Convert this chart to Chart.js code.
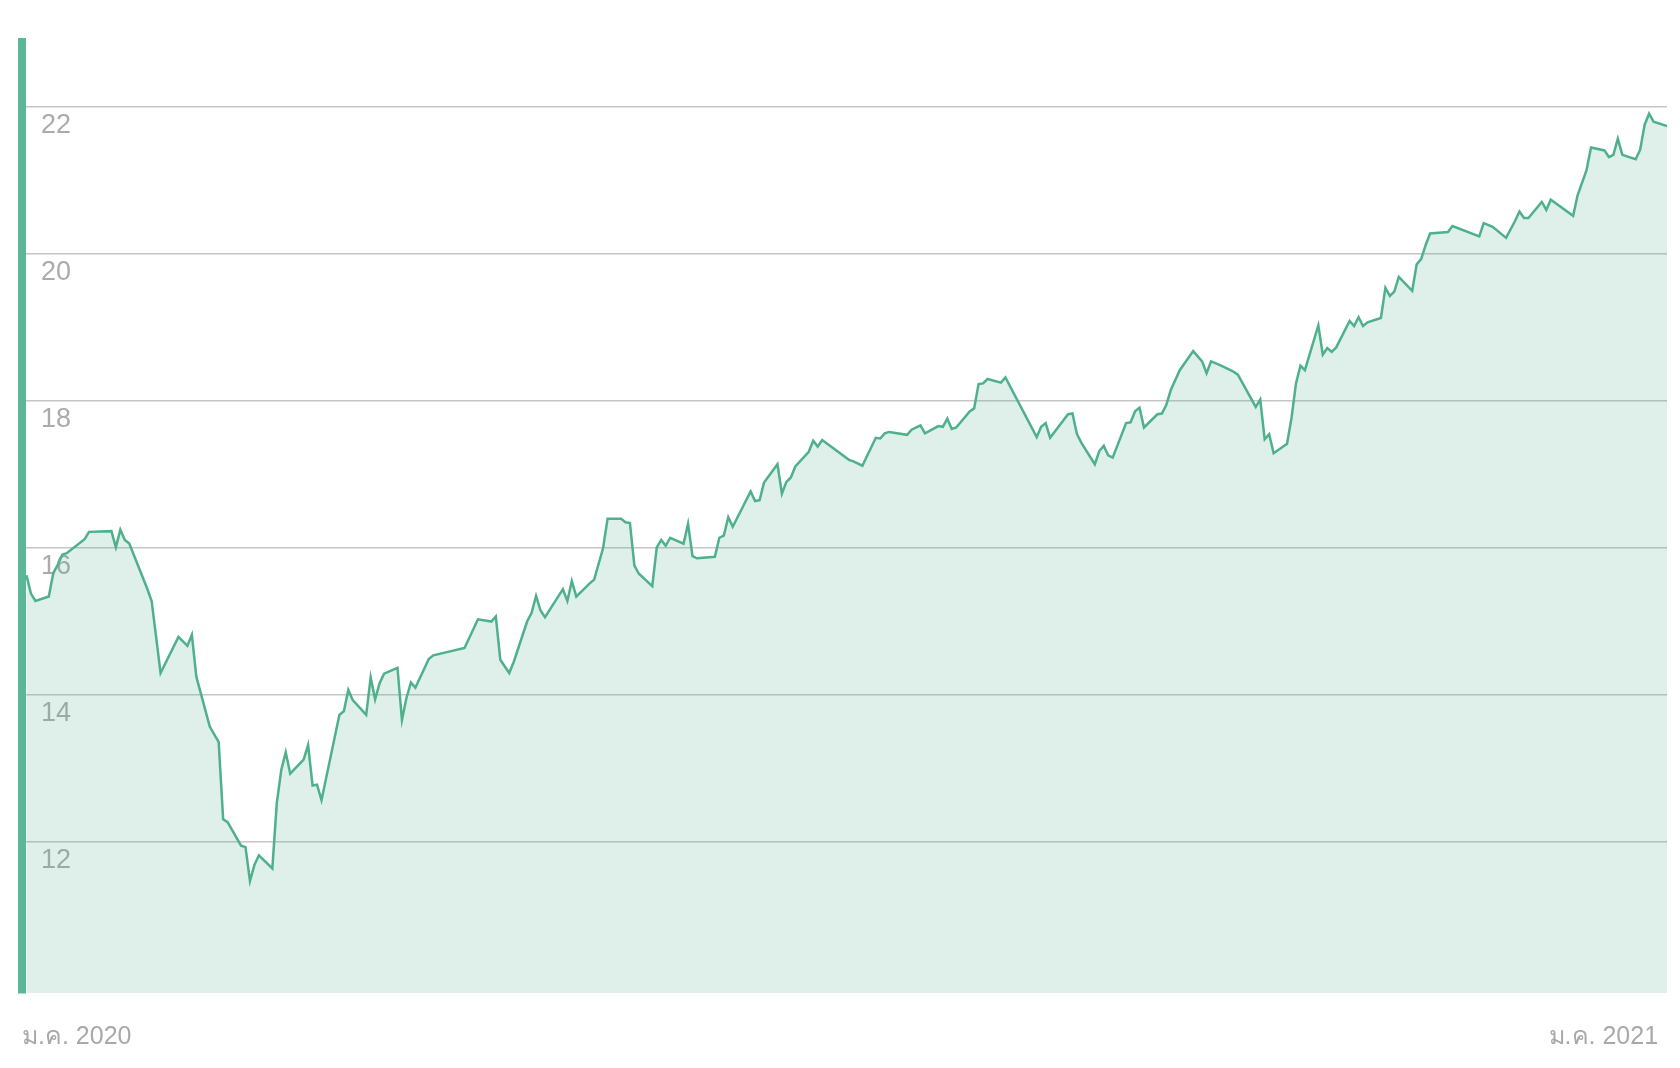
<!DOCTYPE html>
<html>
<head>
<meta charset="utf-8">
<script src="https://cdn.jsdelivr.net/npm/chart.js@4/dist/chart.umd.min.js"></script>
<style>
  html, body { margin: 0; padding: 0; background: #ffffff; }
  #wrap { width: 1680px; height: 1068px; }
</style>
</head>
<body>
<div id="wrap"><canvas id="c" width="1680" height="1068"></canvas></div>
<script>
// Day offsets from 1 Jan 2020 (calendar days)
const days = [
  1,2,3,6,7,8,9,10,14,15,20,21,22,23,24,28,29,31,35,37,38,39,42,44,45,46,49,50,51,52,53,
  56,57,58,59,60,63,64,65,66,67,71,72,73,74,77,78,79,80,81,84,85,86,87,88,91,92,99,102,105,106,
  107,109,110,113,114,115,116,117,121,122,123,124,127,128,130,131,134,135,136,137,138,141,142,143,144,145,148,149,150,151,155,156,157,158,159,
  163,164,165,166,169,170,171,172,173,176,177,178,179,185,186,188,191,192,193,194,198,199,201,202,205,206,207,208,209,212,213,
  214,215,216,219,220,227,228,229,230,234,235,236,237,240,241,242,243,244,247,248,249,250,251,254,255,256,257,259,262,264,265,266,
  268,270,271,272,276,277,278,279,280,283,284,285,286,287,290,291,292,293,294,297,298,299,300,301,304,305,306,307,308,311,312,313,314,315,319,320,
  326,327,329,332,334,335,336,337,340,341,342,347,348,350,351,354,355,356,357,358,361,362,363,364,365,368
];
const values = [
  15.62,15.37,15.27,15.33,15.65,15.76,15.90,15.92,16.11,16.21,16.22,16.00,16.24,16.10,16.05,15.44,15.27,14.29,14.78,14.66,14.81,14.24,13.56,13.35,12.30,12.26,11.94,11.92,11.46,11.68,11.81,
  11.63,12.52,12.97,13.21,12.92,13.11,13.31,12.76,12.77,12.56,13.72,13.77,14.06,13.92,13.72,14.23,13.93,14.15,14.28,14.36,13.65,13.95,14.16,14.09,14.48,14.53,14.63,15.02,14.99,15.06,
  14.47,14.29,14.44,14.99,15.11,15.34,15.14,15.05,15.43,15.27,15.54,15.33,15.51,15.56,15.99,16.39,16.39,16.34,16.33,15.75,15.64,15.47,16.00,16.10,16.02,16.13,16.05,16.32,15.88,15.85,15.87,16.13,16.16,16.41,16.28,
  16.76,16.63,16.64,16.88,17.13,16.73,16.89,16.95,17.10,17.30,17.45,17.37,17.46,17.19,17.17,17.11,17.49,17.48,17.55,17.57,17.53,17.60,17.66,17.55,17.65,17.64,17.75,17.61,17.63,17.85,17.89,
  18.22,18.23,18.29,18.24,18.31,17.50,17.64,17.69,17.49,17.81,17.82,17.54,17.42,17.13,17.31,17.38,17.25,17.22,17.69,17.70,17.85,17.90,17.63,17.81,17.82,17.94,18.14,18.41,18.67,18.53,18.37,18.53,
  18.48,18.42,18.39,18.35,17.91,18.01,17.47,17.54,17.28,17.41,17.76,18.23,18.47,18.41,19.02,18.62,18.71,18.66,18.72,19.08,19.01,19.13,19.01,19.06,19.12,19.53,19.42,19.48,19.68,19.49,19.85,19.92,20.11,20.27,20.29,20.37,
  20.23,20.41,20.36,20.21,20.44,20.57,20.48,20.48,20.70,20.59,20.73,20.51,20.79,21.13,21.44,21.40,21.31,21.34,21.56,21.34,21.28,21.41,21.75,21.90,21.79,21.73
];
const yTicks = [12, 14, 16, 18, 20, 22];
const xTickDays = [0, 366];
const xTickLabels = ['ม.ค. 2020', 'ม.ค. 2021'];

const points = days.map((d, i) => ({ x: d, y: values[i] }));

new Chart(document.getElementById('c'), {
  type: 'line',
  data: {
    datasets: [{
      data: points,
      borderColor: '#4fb08c',
      backgroundColor: 'rgba(79,176,140,0.19)',
      borderWidth: 2.5,
      pointRadius: 0,
      tension: 0,
      fill: 'start'
    }]
  },
  options: {
    responsive: false,
    animation: false,
    events: [],
    layout: { padding: { left: 22, right: 13, top: 42, bottom: 0 } },
    plugins: { legend: { display: false }, tooltip: { enabled: false } },
    scales: {
      x: {
        type: 'linear',
        min: 0,
        max: 368,
        afterBuildTicks: axis => { axis.ticks = xTickDays.map(v => ({ value: v })); },
        afterFit: axis => { axis.height = 75; axis.paddingLeft = 0; axis.paddingRight = 0; },
        grid: { display: false, drawTicks: false },
        border: { display: false },
        ticks: {
          align: 'inner',
          maxRotation: 0,
          padding: 29.5,
          color: '#a9a9a9',
          font: { family: 'Liberation Sans, Arial, Helvetica, sans-serif', size: 25 },
          callback: (v) => { const i = xTickDays.indexOf(v); return i >= 0 ? xTickLabels[i] : ''; }
        }
      },
      y: {
        type: 'linear',
        min: 9.936,
        max: 22.875,
        afterBuildTicks: axis => { axis.ticks = yTicks.map(v => ({ value: v })); },
        afterFit: axis => { axis.width = 0; axis.paddingTop = 0; axis.paddingBottom = 0; },
        grid: { color: '#c6c6c6', lineWidth: 1.5, drawTicks: false },
        border: { display: true, color: '#5ab898', width: 8, z: 1 },
        ticks: {
          mirror: true,
          padding: 19,
          labelOffset: 19,
          color: '#ababab',
          font: { family: 'Liberation Sans, Arial, Helvetica, sans-serif', size: 27 },
          callback: v => String(v)
        }
      }
    }
  }
});
</script>
</body>
</html>
